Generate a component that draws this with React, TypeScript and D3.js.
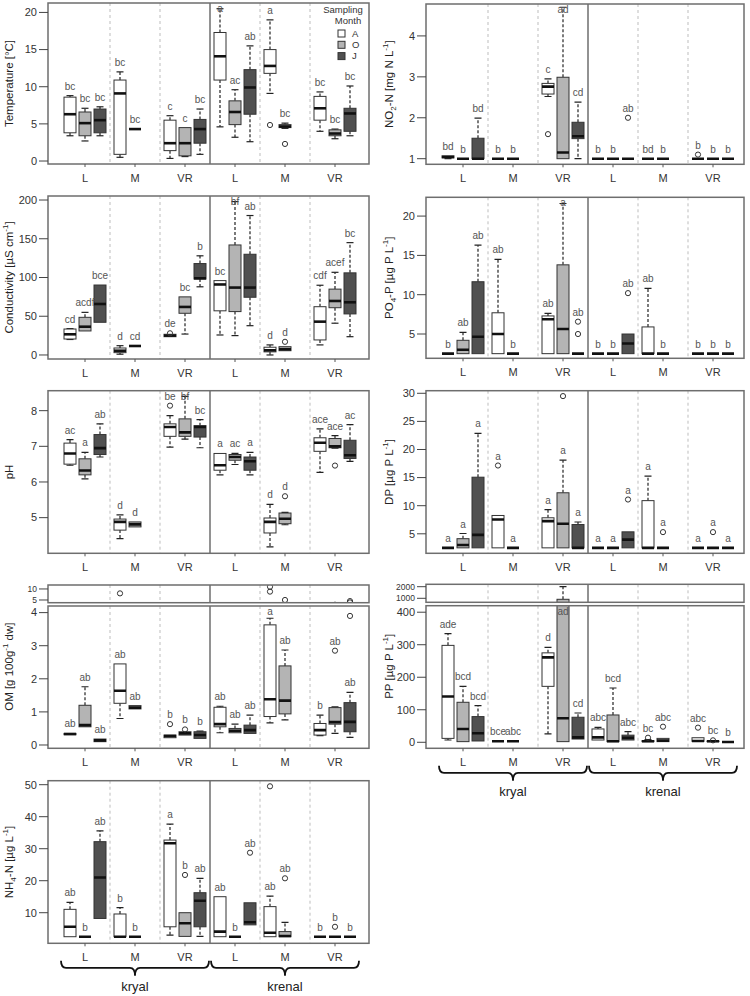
import React, { useEffect, useRef } from 'react'
import * as d3 from 'd3'

const sites = ['kryal', 'krenal']
const reaches = ['L', 'M', 'VR']
const months = ['A', 'O', 'J']
const monthFill = ['#ffffff', '#b4b4b4', '#505050']

// boxes: [lower whisker, Q1, median, Q3, upper whisker]
// order: kryal L (A,O,J), kryal M, kryal VR, krenal L, krenal M, krenal VR
const tempBoxes = [
  [3.4, 3.8, 6.3, 8.6, 8.8], [2.7, 3.4, 5.1, 6.6, 7.1], [3.4, 3.8, 5.5, 7.0, 7.3],
  [0.5, 0.9, 9.1, 10.9, 12.0], [4.3, 4.3, 4.3, 4.3, 4.3], null,
  [0.35, 1.4, 2.4, 5.5, 6.1], [0.6, 0.7, 2.4, 4.5, 4.5], [0.9, 2.4, 4.3, 5.6, 7.0],
  [4.6, 10.9, 14.1, 17.3, 20.5], [3.2, 4.9, 6.6, 8.1, 9.6], [2.6, 6.3, 9.9, 12.3, 15.5],
  [9.1, 11.8, 12.8, 15.0, 19.0], [4.4, 4.5, 4.65, 4.9, 5.1], null,
  [4.0, 5.5, 7.1, 8.7, 9.3], [3.0, 3.4, 3.7, 4.2, 4.3], [3.4, 4.0, 6.4, 7.1, 10.1],
]
const tempOutliers = [[12, 4.85], [13, 2.3]]
const tempLetters = ['bc', 'bc', 'bc', 'bc', 'bc', '', 'c', 'c', 'bc', 'a', 'ac', 'ab', 'a', 'bc', '', 'bc', 'bc', 'bc']

const condBoxes = [
  [20, 20.6, 26.7, 33.5, 34], [31, 31, 36.5, 48.6, 55], [42.2, 42.2, 65.8, 90.3, 90.3],
  [1, 3, 5.5, 9, 12], [11.6, 11.6, 11.6, 11.6, 11.6], null,
  [23.6, 23.6, 25, 26.7, 26.7], [27, 53.8, 62, 75, 75], [88, 98, 99, 118, 128],
  [25.8, 57, 91, 96, 96], [25, 56, 87, 142, 198], [37.8, 74.5, 87, 130, 180],
  [0, 4, 6, 10, 13], [5.5, 5.5, 7.4, 10.7, 10.7], null,
  [13, 19.4, 43, 62.3, 90], [41, 61, 69.7, 85, 106.7], [23.6, 53, 68, 106, 145],
]
const condOutliers = [[6, 28], [13, 17]]
const condLetters = ['cd', 'acdf', 'bce', 'd', 'cd', '', 'de', 'bc', 'b', 'bc', 'bf', 'ab', 'd', 'd', '', 'cdf', 'acef', 'bc']

const phBoxes = [
  [6.47, 6.5, 6.8, 7.09, 7.19], [6.09, 6.2, 6.32, 6.65, 6.83], [6.7, 6.77, 6.95, 7.33, 7.63],
  [4.41, 4.65, 4.88, 4.96, 5.08], [4.74, 4.74, 4.81, 4.88, 4.88], null,
  [6.98, 7.28, 7.54, 7.63, 7.86], [7.2, 7.28, 7.39, 7.77, 8.4], [6.96, 7.26, 7.54, 7.58, 7.75],
  [6.2, 6.33, 6.47, 6.8, 6.8], [6.49, 6.61, 6.7, 6.77, 6.8], [6.2, 6.33, 6.58, 6.7, 6.83],
  [4.18, 4.57, 4.88, 4.99, 5.37], [4.8, 4.83, 4.97, 5.13, 5.15], null,
  [6.27, 6.86, 7.1, 7.24, 7.49], [6.95, 6.96, 7.0, 7.22, 7.3], [6.58, 6.66, 6.75, 7.17, 7.61],
]
const phOutliers = [[6, 8.14], [13, 5.6], [16, 6.46]]
const phLetters = ['ac', 'a', 'ab', 'd', 'd', '', 'be', 'bf', 'bc', 'a', 'ac', 'a', 'd', 'd', '', 'ace', 'ace', 'ac']

const omBoxes = [
  [0.31, 0.31, 0.33, 0.35, 0.35], [0.55, 0.55, 0.6, 1.2, 1.76], [0.1, 0.1, 0.14, 0.18, 0.18],
  [0.8, 1.26, 1.64, 2.45, 2.45], [1.09, 1.09, 1.13, 1.19, 1.19], null,
  [0.22, 0.22, 0.27, 0.3, 0.3], [0.3, 0.3, 0.35, 0.4, 0.4], [0.2, 0.2, 0.3, 0.4, 0.42],
  [0.37, 0.55, 0.63, 1.14, 1.17], [0.37, 0.37, 0.43, 0.5, 0.63], [0.35, 0.35, 0.45, 0.6, 0.9],
  [0.67, 0.86, 1.38, 3.63, 3.83], [0.76, 0.94, 1.34, 2.39, 2.87], null,
  [0.28, 0.3, 0.45, 0.65, 0.9], [0.35, 0.63, 0.69, 1.13, 1.15], [0.23, 0.4, 0.7, 1.28, 1.59],
]
const omOutliers = [[3, 8.0], [6, 0.63], [7, 0.47], [12, 8.8], [12, 11.0], [13, 5.0], [16, 2.85], [17, 3.9], [17, 4.5]]
const omLetters = ['ab', 'ab', 'ab', 'ab', 'ab', '', 'b', 'b', 'b', 'ab', 'ab', 'ab', 'a', 'ab', '', 'b', 'ab', 'ab']

const nh4Boxes = [
  [2.5, 2.5, 5.6, 11.05, 13.25], [2.5, 2.5, 2.5, 2.5, 2.5], [8.2, 8.2, 21, 32.2, 35.6],
  [2.5, 2.5, 2.5, 9.6, 11.6], [2.5, 2.5, 2.5, 2.5, 2.5], null,
  [3.0, 5.6, 31.7, 32.7, 37.7], [2.6, 2.6, 6.7, 10, 10], [2.6, 5.6, 13.75, 16.25, 20.75],
  [2.5, 2.5, 4.1, 15, 15], [2.5, 2.5, 2.5, 2.5, 2.5], [6.2, 6.2, 7.0, 13.1, 13.1],
  [2.5, 2.5, 3.75, 11.9, 15.2], [2.5, 2.5, 2.7, 4.1, 7.0], null,
  [2.5, 2.5, 2.5, 2.5, 2.5], [2.5, 2.5, 2.5, 2.5, 2.5], [2.5, 2.5, 2.5, 2.5, 2.5],
]
const nh4Outliers = [[7, 21.8], [11, 28.75], [13, 20.75], [16, 5.6], [12, 49.5]]
const nh4Letters = ['ab', 'b', 'ab', 'b', 'b', '', 'a', 'b', 'ab', 'ab', 'b', 'ab', 'ab', 'ab', '', 'b', 'b', 'b']

const no2Boxes = [
  [1.0, 1.02, 1.04, 1.07, 1.07], [1, 1, 1, 1, 1], [1, 1, 1, 1.5, 1.99],
  [1, 1, 1, 1, 1], [1, 1, 1, 1, 1], null,
  [2.52, 2.58, 2.76, 2.84, 2.95], [1, 1, 1.15, 2.99, 4.7], [1, 1.49, 1.55, 1.89, 2.38],
  [1, 1, 1, 1, 1], [1, 1, 1, 1, 1], [1, 1, 1, 1, 1],
  [1, 1, 1, 1, 1], [1, 1, 1, 1, 1], null,
  [1, 1, 1, 1, 1], [1, 1, 1, 1, 1], [1, 1, 1, 1, 1],
]
const no2Outliers = [[6, 1.6], [11, 2.0], [15, 1.1]]
const no2Letters = ['bd', 'b', 'bd', 'b', 'b', '', 'c', 'ad', 'cd', 'b', 'b', 'ab', 'bd', 'b', '', 'b', 'b', 'b']

const po4Boxes = [
  [2.5, 2.5, 2.5, 2.5, 2.5], [2.5, 2.5, 3.0, 4.2, 5.2], [2.5, 2.5, 4.66, 11.65, 16.3],
  [2.5, 2.5, 5.0, 7.7, 14.5], [2.5, 2.5, 2.5, 2.5, 2.5], null,
  [2.5, 2.5, 6.87, 7.3, 7.63], [2.5, 2.5, 5.64, 13.8, 21.6], [2.5, 2.5, 2.5, 2.5, 2.5],
  [2.5, 2.5, 2.5, 2.5, 2.5], [2.5, 2.5, 2.5, 2.5, 2.5], [2.5, 2.5, 3.8, 5.0, 5.0],
  [2.5, 2.5, 2.5, 5.9, 10.8], [2.5, 2.5, 2.5, 2.5, 2.5], null,
  [2.5, 2.5, 2.5, 2.5, 2.5], [2.5, 2.5, 2.5, 2.5, 2.5], [2.5, 2.5, 2.5, 2.5, 2.5],
]
const po4Outliers = [[8, 5.0], [8, 6.57], [11, 10.2]]
const po4Letters = ['b', 'ab', 'ab', 'ab', 'b', '', 'ab', 'a', 'ab', 'b', 'b', 'ab', 'ab', 'b', '', 'b', 'b', 'b']

const dpBoxes = [
  [2.5, 2.5, 2.5, 2.5, 2.5], [2.5, 2.5, 3.0, 4.13, 5.05], [2.5, 2.5, 4.8, 15.07, 22.85],
  [2.5, 2.5, 7.55, 8.26, 8.26], [2.5, 2.5, 2.5, 2.5, 2.5], null,
  [2.5, 2.5, 7.25, 7.85, 9.3], [2.5, 2.5, 6.8, 12.3, 18.1], [2.5, 2.5, 2.5, 6.65, 7.1],
  [2.5, 2.5, 2.5, 2.5, 2.5], [2.5, 2.5, 2.5, 2.5, 2.5], [2.5, 2.5, 3.97, 5.35, 5.35],
  [2.5, 2.5, 2.5, 10.9, 15.25], [2.5, 2.5, 2.5, 2.5, 2.5], null,
  [2.5, 2.5, 2.5, 2.5, 2.5], [2.5, 2.5, 2.5, 2.5, 2.5], [2.5, 2.5, 2.5, 2.5, 2.5],
]
const dpOutliers = [[3, 17.15], [7, 29.5], [11, 11.1], [13, 5.3], [16, 5.3]]
const dpLetters = ['a', 'a', 'a', 'a', 'a', '', 'a', 'a', 'a', 'a', 'a', 'a', 'a', 'a', '', 'a', 'a', 'a']

const ppBoxes = [
  [7, 12, 141, 298, 334], [2, 2, 41, 123, 172], [4, 4, 28, 79, 113],
  [3, 3, 3, 3, 3], [3, 3, 3, 3, 3], null,
  [26, 172, 261, 275, 292], [2, 2, 74, 914, 2000], [10, 10, 15, 77, 90],
  [7, 7, 15, 41, 46], [2, 2, 3, 84, 167], [7, 7, 14, 22, 33],
  [2, 2, 3, 5, 8], [2, 2, 5, 12, 12], null,
  [3, 3, 4, 14, 14], [2, 2, 3, 4, 4], [1, 1, 1, 1, 1],
]
const ppOutliers = [[12, 14], [13, 48], [15, 45], [16, 6]]
const ppLetters = ['ade', 'bcd', 'bcd', 'bce', 'abc', '', 'd', 'ad', 'cd', 'abc', 'bcd', 'abc', 'bc', 'abc', '', 'abc', 'bc', 'b']

const sup = '-1'
const panels: any[] = [
  { key: 'temp', col: 0, main: { top: 3, bottom: 164, domain: [-0.4, 21.27], ticks: [0, 5, 10, 15, 20] },
    label: [['Temperature [°C]', 'n']], boxes: tempBoxes, outliers: tempOutliers, letters: tempLetters, legend: true },
  { key: 'cond', col: 0, main: { top: 196, bottom: 359, domain: [-5.2, 205.2], ticks: [0, 50, 100, 150, 200] },
    label: [['Conductivity [µS cm', 'n'], [sup, 'sup'], [']', 'n']], boxes: condBoxes, outliers: condOutliers, letters: condLetters },
  { key: 'ph', col: 0, main: { top: 390.7, bottom: 553.3, domain: [4.0, 8.56], ticks: [5, 6, 7, 8] },
    label: [['pH', 'n']], boxes: phBoxes, outliers: phOutliers, letters: phLetters },
  { key: 'om', col: 0, main: { top: 606, bottom: 748.3, domain: [-0.1, 4.2], ticks: [0, 1, 2, 3, 4] },
    upper: { top: 585, bottom: 602.7, domain: [3.77, 11.8], ticks: [5, 10] },
    label: [['OM [g 100g', 'n'], [sup, 'sup'], [' dw]', 'n']], boxes: omBoxes, outliers: omOutliers, letters: omLetters },
  { key: 'nh4', col: 0, main: { top: 780.7, bottom: 943.3, domain: [0.44, 51.25], ticks: [10, 20, 30, 40, 50] },
    label: [['NH', 'n'], ['4', 'sub'], ['-N [µg L', 'n'], [sup, 'sup'], [']', 'n']], boxes: nh4Boxes, outliers: nh4Outliers, letters: nh4Letters, brace: true },
  { key: 'no2', col: 1, main: { top: 4, bottom: 164.3, domain: [0.863, 4.78], ticks: [1, 2, 3, 4] },
    label: [['NO', 'n'], ['2', 'sub'], ['-N [mg N L', 'n'], [sup, 'sup'], [']', 'n']], boxes: no2Boxes, outliers: no2Outliers, letters: no2Letters },
  { key: 'po4', col: 1, main: { top: 197.3, bottom: 358.3, domain: [1.91, 22.39], ticks: [5, 10, 15, 20] },
    label: [['PO', 'n'], ['4', 'sub'], ['-P [µg P L', 'n'], [sup, 'sup'], [']', 'n']], boxes: po4Boxes, outliers: po4Outliers, letters: po4Letters },
  { key: 'dp', col: 1, main: { top: 390.7, bottom: 553.3, domain: [1.53, 30.46], ticks: [5, 10, 15, 20, 25, 30] },
    label: [['DP [µg P L', 'n'], [sup, 'sup'], [']', 'n']], boxes: dpBoxes, outliers: dpOutliers, letters: dpLetters },
  { key: 'pp', col: 1, main: { top: 605.7, bottom: 748.3, domain: [-18.5, 420], ticks: [0, 100, 200, 300, 400] },
    upper: { top: 584.3, bottom: 602.3, domain: [655, 2207], ticks: [1000, 2000] },
    label: [['PP [µg P L', 'n'], [sup, 'sup'], [']', 'n']], boxes: ppBoxes, outliers: ppOutliers, letters: ppLetters, brace: true },
]

const FONT = '"Liberation Sans", Arial, Helvetica, sans-serif'

function drawPanel(svg: any, p: any) {
  const x0 = p.col === 0 ? 48 : 426
  const x1 = p.col === 0 ? 369 : 744
  const groupX = d3.scaleLinear().domain([0, 5]).range([x0 + 37, x0 + 287])
  const monthX = d3.scalePoint<string>().domain(months).range([-15, 15])
  const bx = (i: number) => groupX(Math.floor(i / 3)) + (monthX(months[i % 3]) as number)
  const half = 6

  const g = svg.append('g')
  const sections = p.upper ? [p.main, p.upper] : [p.main]

  sections.forEach((s: any, k: number) => {
    const y = d3.scaleLinear().domain(s.domain).range([s.bottom, s.top])
    const clipId = `clip-${p.key}-${k}`
    svg.append('clipPath').attr('id', clipId)
      .append('rect')
      .attr('x', x0).attr('y', s.top)
      .attr('width', x1 - x0).attr('height', s.bottom - s.top)

    const inner = g.append('g').attr('clip-path', `url(#${clipId})`)

    // group separators
    d3.range(5).forEach(j => {
      const xx = groupX(j + 0.5)
      inner.append('line')
        .attr('x1', xx).attr('x2', xx)
        .attr('y1', s.top).attr('y2', s.bottom)
        .attr('stroke', j === 2 ? '#6e6e6e' : '#bdbdbd')
        .attr('stroke-width', j === 2 ? 1.5 : 1)
        .attr('stroke-dasharray', j === 2 ? null : '3,3')
    })

    // boxes
    p.boxes.forEach((b: number[] | null, i: number) => {
      if (!b) return
      const cx = bx(i)
      const [lo, q1, med, q3, hi] = b
      const bg = inner.append('g')
      if (hi > q3) {
        bg.append('line').attr('x1', cx).attr('x2', cx).attr('y1', y(q3)).attr('y2', y(hi))
          .attr('stroke', '#222').attr('stroke-width', 1.2).attr('stroke-dasharray', '3,2')
        bg.append('line').attr('x1', cx - 3.5).attr('x2', cx + 3.5).attr('y1', y(hi)).attr('y2', y(hi))
          .attr('stroke', '#222').attr('stroke-width', 1.2)
      }
      if (lo < q1) {
        bg.append('line').attr('x1', cx).attr('x2', cx).attr('y1', y(q1)).attr('y2', y(lo))
          .attr('stroke', '#222').attr('stroke-width', 1.2).attr('stroke-dasharray', '3,2')
        bg.append('line').attr('x1', cx - 3.5).attr('x2', cx + 3.5).attr('y1', y(lo)).attr('y2', y(lo))
          .attr('stroke', '#222').attr('stroke-width', 1.2)
      }
      bg.append('rect')
        .attr('x', cx - half).attr('y', y(q3))
        .attr('width', half * 2).attr('height', Math.max(0, y(q1) - y(q3)))
        .attr('fill', monthFill[i % 3])
        .attr('stroke', '#333').attr('stroke-width', 1)
      bg.append('line')
        .attr('x1', cx - half).attr('x2', cx + half)
        .attr('y1', y(med)).attr('y2', y(med))
        .attr('stroke', '#111').attr('stroke-width', 2.6)
    })

    // outliers
    p.outliers.forEach(([i, v]: number[]) => {
      inner.append('circle')
        .attr('cx', bx(i)).attr('cy', y(v)).attr('r', 2.6)
        .attr('fill', 'none').attr('stroke', '#333').attr('stroke-width', 1)
    })

    // frame
    g.append('rect')
      .attr('x', x0).attr('y', s.top)
      .attr('width', x1 - x0).attr('height', s.bottom - s.top)
      .attr('fill', 'none').attr('stroke', '#6e6e6e').attr('stroke-width', 1.5)

    // y axis ticks
    s.ticks.forEach((t: number) => {
      g.append('line')
        .attr('x1', x0 - 9).attr('x2', x0).attr('y1', y(t)).attr('y2', y(t))
        .attr('stroke', '#444').attr('stroke-width', 1)
      g.append('text')
        .attr('x', x0 - 11).attr('y', y(t)).attr('dy', '0.35em')
        .attr('text-anchor', 'end')
        .style('font-size', k === 0 ? '11px' : '8.5px')
        .style('fill', '#333')
        .text(t)
    })

    if (k === 0) {
      // significance letters
      p.boxes.forEach((b: number[] | null, i: number) => {
        if (!b || !p.letters[i]) return
        const outs = p.outliers
          .filter((o: number[]) => o[0] === i && o[1] <= s.domain[1] && o[1] > b[4])
          .map((o: number[]) => o[1])
        const top = Math.max(b[4], ...outs)
        let ly = y(top) - 6
        if (ly - 8 < s.top) ly = y(Math.min(b[4], s.domain[1])) - 6
        ly = Math.max(ly, s.top + 9)
        g.append('text')
          .attr('x', bx(i)).attr('y', ly)
          .attr('text-anchor', 'middle')
          .style('font-size', '10px')
          .style('fill', '#555')
          .text(p.letters[i])
      })

      // x labels
      d3.range(6).forEach(j => {
        g.append('line')
          .attr('x1', groupX(j)).attr('x2', groupX(j))
          .attr('y1', s.bottom).attr('y2', s.bottom + 3)
          .attr('stroke', '#555')
        g.append('text')
          .attr('x', groupX(j)).attr('y', s.bottom + 14).attr('dy', '0.35em')
          .attr('text-anchor', 'middle')
          .style('font-size', '11px')
          .style('fill', '#333')
          .text(reaches[j % 3])
      })

      if (p.brace) {
        const yTop = s.bottom + 17.5
        const yMid = yTop + 7
        const yTip = yTop + 15
        sites.forEach((site, si) => {
          const xa = groupX(si * 3) - 24
          const xb = groupX(si * 3 + 2) + 24
          const xm = groupX(si * 3 + 1)
          const r = 5
          const path = d3.path()
          path.moveTo(xa, yTop)
          path.quadraticCurveTo(xa, yMid, xa + r, yMid)
          path.lineTo(xm - r, yMid)
          path.quadraticCurveTo(xm, yMid, xm, yTip)
          path.quadraticCurveTo(xm, yMid, xm + r, yMid)
          path.lineTo(xb - r, yMid)
          path.quadraticCurveTo(xb, yMid, xb, yTop)
          g.append('path').attr('d', path.toString())
            .attr('fill', 'none').attr('stroke', '#111').attr('stroke-width', 1.8)
          g.append('text')
            .attr('x', xm).attr('y', yTip + 11).attr('dy', '0.35em')
            .attr('text-anchor', 'middle')
            .style('font-size', '13px')
            .style('fill', '#222')
            .text(site)
        })
      }
    }
  })

  // y label
  const lx = p.col === 0 ? 13 : 393
  const ly = p.upper ? (p.upper.top + p.main.bottom) / 2 : (p.main.top + p.main.bottom) / 2
  const txt = g.append('text')
    .attr('transform', `translate(${lx},${ly}) rotate(-90)`)
    .attr('text-anchor', 'middle')
    .attr('dy', '0.35em')
    .style('font-size', '11.5px')
    .style('fill', '#222')
  p.label.forEach(([t, kind]: string[]) => {
    const sp = txt.append('tspan').text(t)
    if (kind === 'sub') sp.attr('dy', 3).style('font-size', '8px')
    if (kind === 'sup') sp.attr('dy', -5).style('font-size', '8px')
    if (kind === 'n') sp.attr('dy', 0)
  })
  // reset baseline after sub/sup
  txt.selectAll('tspan').each(function (this: any, _d: any, i: number) {
    const kind = p.label[i][1]
    const prev = i > 0 ? p.label[i - 1][1] : 'n'
    if (kind === 'n' && prev === 'sub') d3.select(this).attr('dy', -3)
    if (kind === 'n' && prev === 'sup') d3.select(this).attr('dy', 5)
  })

  if (p.legend) {
    const lg = g.append('g')
    lg.append('text').attr('x', x1 - 26).attr('y', 13).attr('text-anchor', 'middle')
      .style('font-size', '9.5px').style('fill', '#333').text('Sampling')
    lg.append('text').attr('x', x1 - 21).attr('y', 24).attr('text-anchor', 'middle')
      .style('font-size', '9.5px').style('fill', '#333').text('Month')
    months.forEach((m, i) => {
      const yy = 33.5 + i * 11.3
      lg.append('rect').attr('x', x1 - 31).attr('y', yy - 3.5).attr('width', 7).attr('height', 7)
        .attr('fill', monthFill[i]).attr('stroke', '#333').attr('stroke-width', 1)
      lg.append('text').attr('x', x1 - 17).attr('y', yy).attr('dy', '0.35em')
        .style('font-size', '9.5px').style('fill', '#333').text(m)
    })
  }
}

export default function App() {
  const svgRef = useRef<SVGSVGElement>(null)

  useEffect(() => {
    document.body.style.margin = '0'
    const svg = d3.select(svgRef.current)
    svg.selectAll('*').remove()
    svg.append('rect').attr('width', 750).attr('height', 996).attr('fill', '#fff')
    panels.forEach(p => drawPanel(svg, p))
  }, [])

  return (
    <svg
      ref={svgRef}
      width={750}
      height={996}
      style={{ display: 'block', fontFamily: FONT }}
    />
  )
}
